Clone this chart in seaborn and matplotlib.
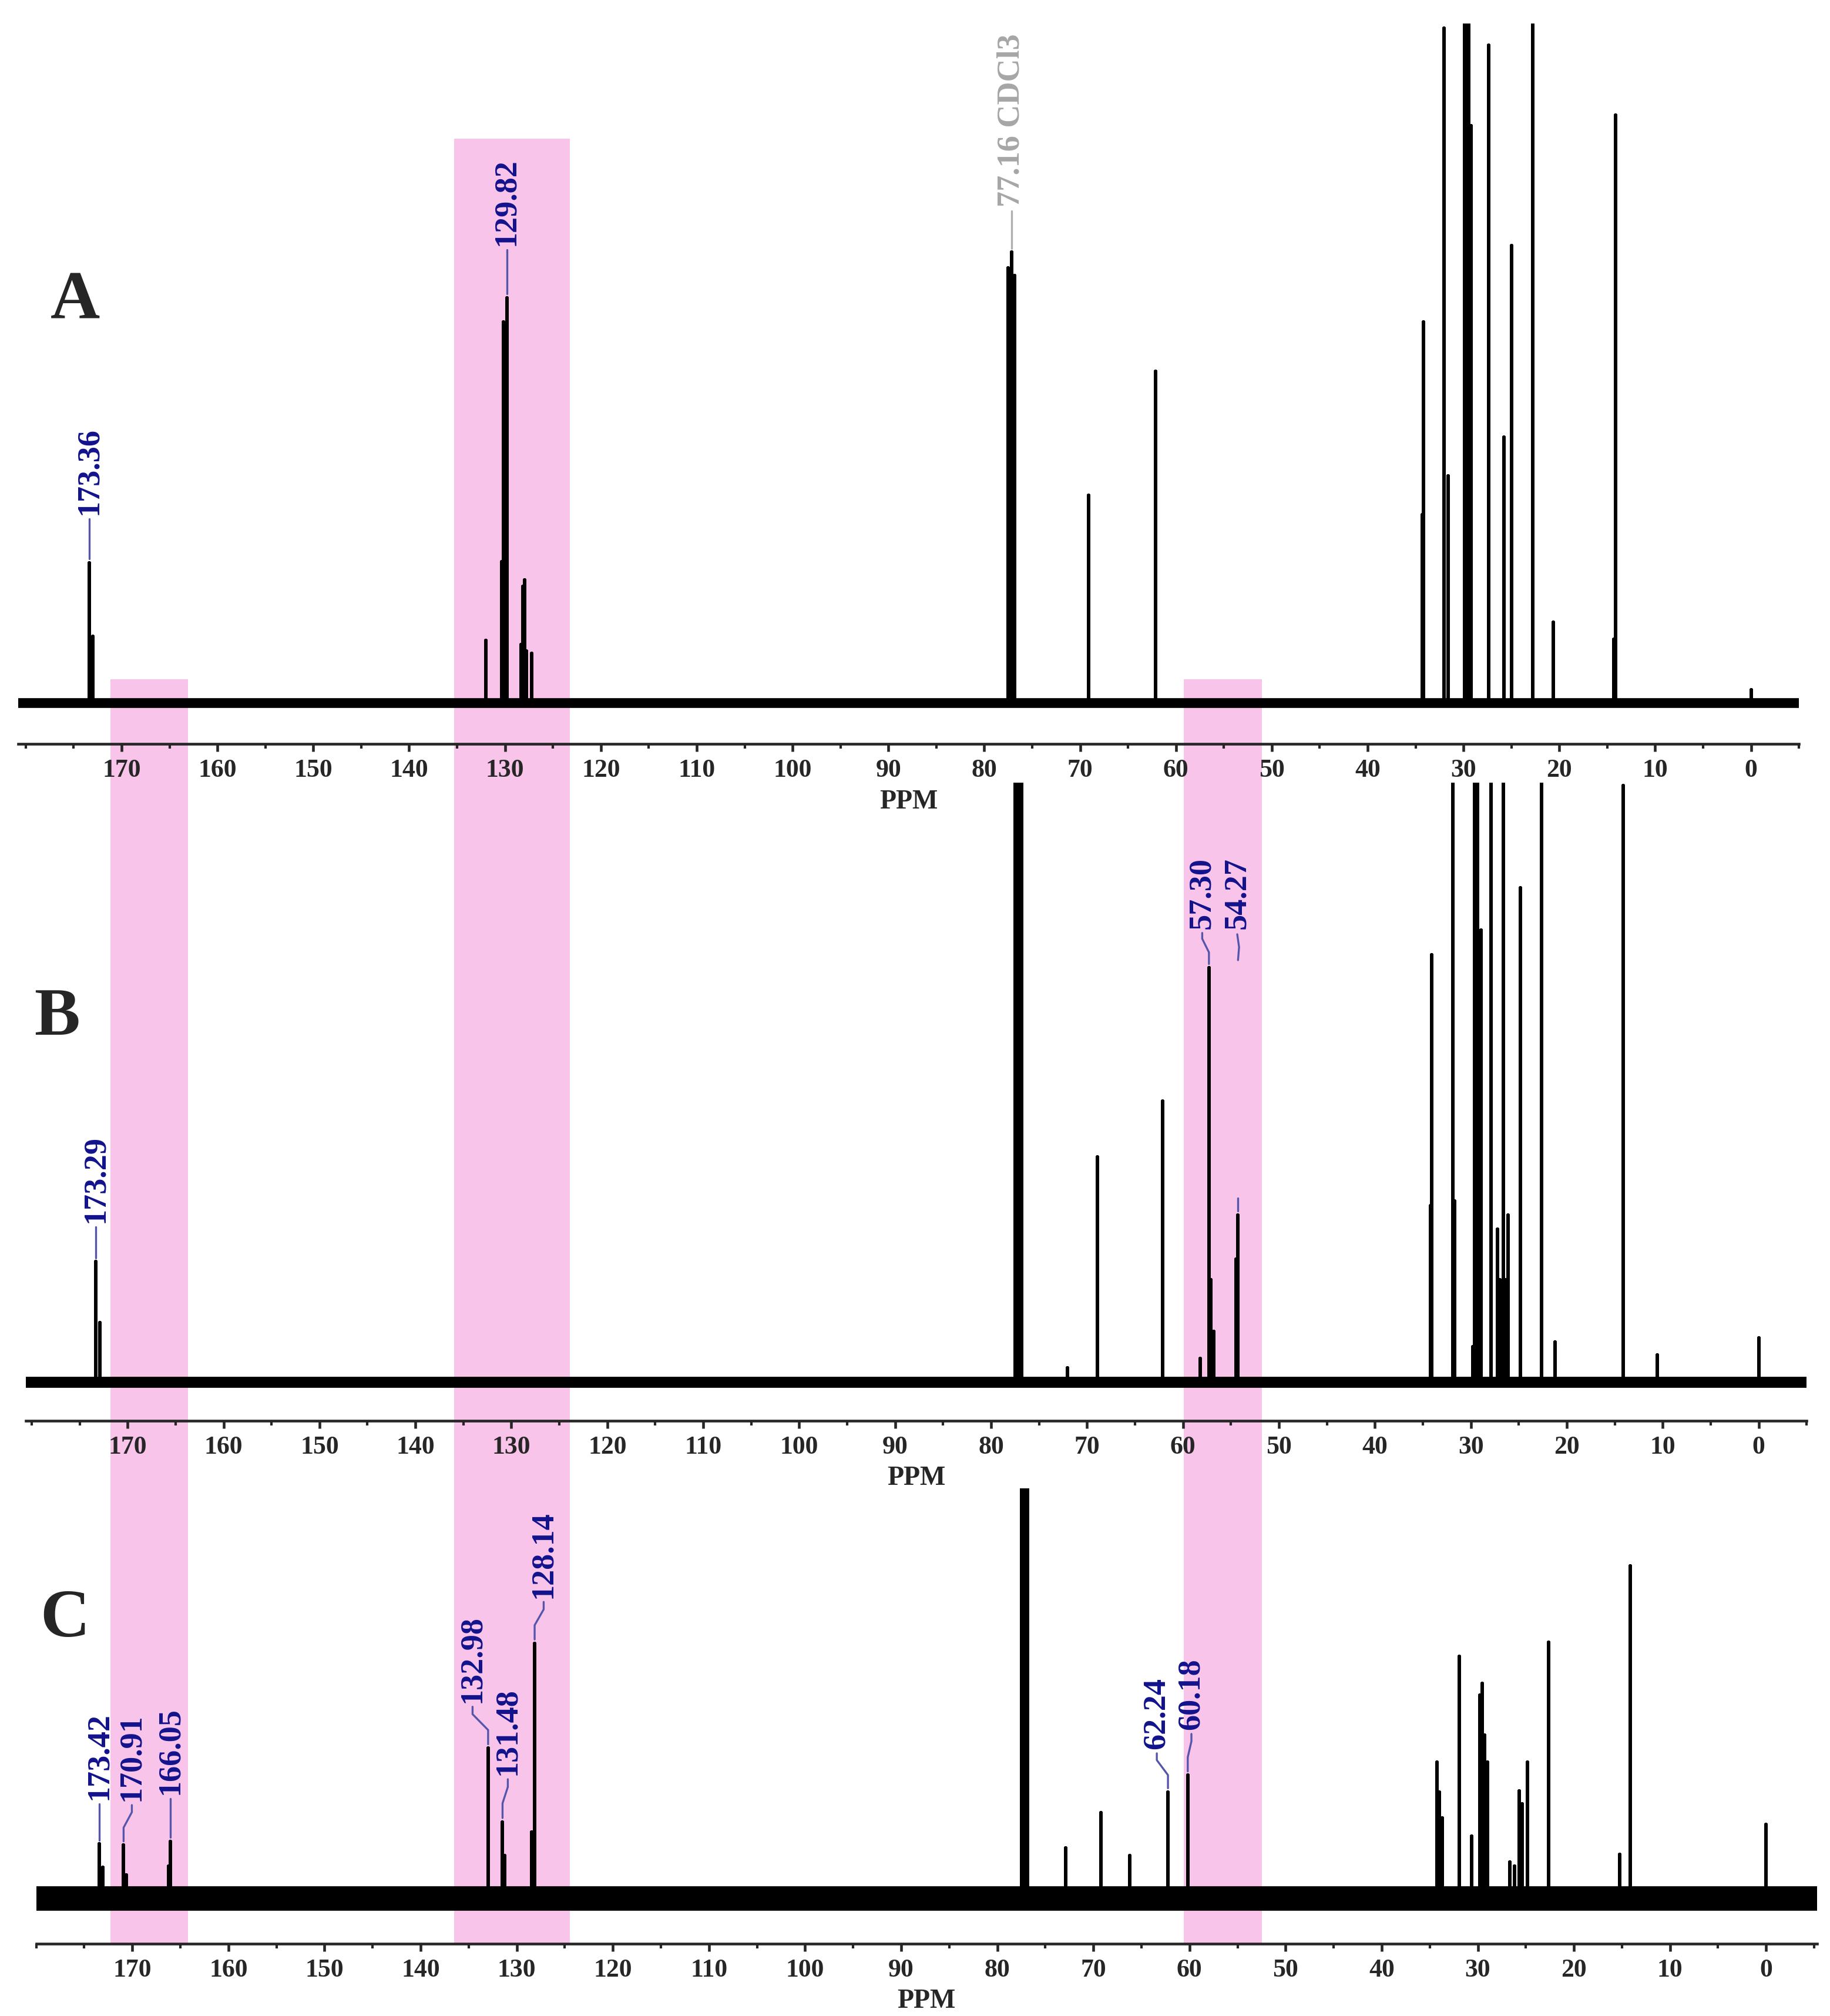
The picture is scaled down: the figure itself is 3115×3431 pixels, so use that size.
import pandas as pd
import matplotlib.pyplot as plt
import seaborn as sns

# -----------------------------
# peak lists (ppm, height above baseline)
# -----------------------------
a_ppm = [173.36, 173.02, 132.02, 130.34, 130.14, 129.82, 128.32, 128.12, 127.98, 127.77, 127.20,
         77.48, 77.16, 76.84, 69.10, 62.10, 34.30, 34.18, 32.04, 31.63, 29.90, 29.75, 29.60, 29.45,
         29.20, 27.35, 25.76, 24.96, 22.76, 20.60, 14.30, 14.14, 0.00]
a_int = [108, 51, 48, 109, 294, 313, 45, 90, 95, 40, 38,
         336, 348, 330, 160, 256, 145, 294, 521, 175, 600, 600, 600, 600,
         446, 508, 205, 353, 600, 62, 49, 454, 10]

b_ppm = [173.29, 172.90, 77.48, 77.16, 76.84, 72.05, 68.90, 62.15, 58.23, 57.30, 57.10, 56.83, 54.50, 54.27,
         34.20, 34.07, 31.87, 31.70, 29.78, 29.60, 29.30, 28.96, 27.88, 27.25, 26.98, 26.62, 26.43, 26.13,
         24.84, 22.66, 21.20, 14.12, 10.55, 0.00]
b_int = [93, 46, 600, 600, 600, 11, 174, 217, 18, 320, 79, 39, 95, 129,
         136, 330, 600, 140, 27, 600, 600, 349, 600, 118, 79, 600, 79, 129,
         382, 600, 31, 461, 21, 34]

c_ppm = [173.42, 173.05, 170.91, 170.60, 166.25, 166.05, 132.98, 131.48, 131.25, 128.45, 128.14,
         77.48, 77.16, 76.84, 72.90, 69.20, 66.20, 62.24, 60.18,
         34.25, 34.00, 33.67, 31.95, 30.67, 29.78, 29.52, 29.27, 29.00, 26.65, 26.17, 25.69, 25.40, 24.82,
         22.65, 15.24, 14.12, 0.00]
c_int = [42, 24, 41, 18, 25, 44, 116, 59, 33, 51, 197,
         400, 400, 400, 39, 66, 33, 82, 95,
         105, 82, 62, 187, 48, 157, 166, 126, 105, 28, 25, 83, 73, 105,
         198, 34, 257, 57]

# labelled peaks
a_lab = ["173.36", "129.82", "77.16 CDCl3"]
a_lab_ppm = [173.36, 129.82, 77.16]
b_lab = ["173.29", "57.30", "54.27"]
b_lab_ppm = [173.29, 57.30, 54.27]
c_lab = ["173.42", "170.91", "166.05", "132.98", "131.48", "128.14", "62.24", "60.18"]
c_lab_ppm = [173.42, 170.91, 166.05, 132.98, 131.48, 128.14, 62.24, 60.18]

# highlighted regions (ppm on the top spectrum's axis)
band_ppm = [(171.3, 163.3), (135.9, 124.0), (60.8, 52.8)]

# -----------------------------
# layout (pixels of a 1414 x 1558 view of the figure)
# -----------------------------
VW, VH = 1414, 1558
panels = {
    "A": dict(left=14, right=1390, top=18, spine=575, ylim=(-32, 525), xlim=(180.8, -2.5), noise=4.0,
              letter=(58, 233)),
    "B": dict(left=20, right=1396, top=605, spine=1098, ylim=(-30, 463), xlim=(180.6, -4.7), noise=4.5,
              letter=(44, 787)),
    "C": dict(left=28, right=1404, top=1150, spine=1502, ylim=(-35, 317), xlim=(180.0, -5.3), noise=10.0,
              letter=(50, 1252)),
}
band_tops = [525, 107, 525]
band_bottom = 1502

# label placement: text x (ppm), text bottom (height units), leader style
a_layout = [(173.36, 145, "straight"), (129.82, 353, "straight"), (77.16, 383, "straight")]
b_layout = [(173.29, 123, "straight"), (58.0, 350, "bend"), (54.35, 350, "broken")]
c_layout = [(173.42, 76, "straight"), (170.05, 75, "bend"), (166.05, 80, "straight"),
            (134.6, 151, "bend"), (130.93, 95, "bend"), (127.2, 232, "bend"),
            (63.4, 115, "bend"), (59.8, 130, "bend")]

NAVY = "#12128c"
LEAD = "#5555aa"
PINK = "#f9c4ea"

sns.set_theme(style="ticks")
plt.rcParams["font.family"] = ["Liberation Serif", "DejaVu Serif"]
plt.rcParams["font.weight"] = "bold"


def fx(px):
    return px / VW


def fy(py):
    return 1 - py / VH


def stick_frame(ppm, inten):
    rows = []
    for p, h in sorted(zip(ppm, inten), reverse=True):
        rows += [(p, 0), (p, h), (p, 0)]
    return pd.DataFrame(rows, columns=["ppm", "intensity"])


def label_peaks(ax, ppm, inten, lab_ppm, lab_txt, layout):
    for p, txt, (tx, ty, style) in zip(lab_ppm, lab_txt, layout):
        h = inten[ppm.index(p)]
        col = "#a6a6a6" if "CDCl3" in txt else NAVY
        lcol = "#b0b0b0" if "CDCl3" in txt else LEAD
        if style == "straight":
            ax.plot([p, p], [h + 3, ty - 3], color=lcol, lw=0.8)
        elif style == "bend":
            y1 = h + 0.4 * (ty - h)
            y2 = h + 0.75 * (ty - h)
            ax.plot([p, p, tx, tx], [h + 3, y1, y2, ty - 3], color=lcol, lw=0.8)
        else:
            ax.plot([p, p], [h + 3, h + 13], color=lcol, lw=0.8)
            ax.plot([p, (p + tx) / 2 - 0.15, tx], [ty - 24, ty - 14, ty - 4], color=lcol, lw=0.8)
        ax.text(tx, ty, txt, rotation=90, ha="center", va="bottom", color=col,
                fontsize=13, fontweight="bold")


fig = plt.figure(figsize=(3115 / 300, 3431 / 300), dpi=300)

# pink bands behind everything
pa = panels["A"]
bg = fig.add_axes([fx(pa["left"]), 0, fx(pa["right"]) - fx(pa["left"]), 1], zorder=0)
bg.set_xlim(*pa["xlim"])
bg.set_ylim(0, 1)
bg.axis("off")
for (x0, x1), top in zip(band_ppm, band_tops):
    bg.axvspan(x0, x1, ymin=fy(band_bottom), ymax=fy(top), color=PINK, lw=0)

spectra = {
    "A": (a_ppm, a_int, a_lab_ppm, a_lab, a_layout),
    "B": (b_ppm, b_int, b_lab_ppm, b_lab, b_layout),
    "C": (c_ppm, c_int, c_lab_ppm, c_lab, c_layout),
}

for name, (ppm, inten, lab_ppm, lab_txt, layout) in spectra.items():
    p = panels[name]
    ax = fig.add_axes([fx(p["left"]), fy(p["spine"]), fx(p["right"]) - fx(p["left"]),
                       fy(p["top"]) - fy(p["spine"])], zorder=1)
    ax.patch.set_alpha(0)
    ax.axhline(0, color="black", lw=p["noise"], zorder=1)
    sns.lineplot(data=stick_frame(ppm, inten), x="ppm", y="intensity", sort=False,
                 estimator=None, color="black", lw=1.4, ax=ax, zorder=2)
    label_peaks(ax, ppm, inten, lab_ppm, lab_txt, layout)
    ax.set_xlim(*p["xlim"])
    ax.set_ylim(*p["ylim"])
    ax.set_yticks([])
    ax.set_ylabel("")
    ax.set_xticks(range(0, 171, 10))
    ax.set_xticks(range(-5, 181, 5), minor=True)
    for s in ["left", "right", "top"]:
        ax.spines[s].set_visible(False)
    ax.spines["bottom"].set_linewidth(1.1)
    ax.tick_params(axis="x", which="major", bottom=True, direction="out", length=3, width=1.1,
                   labelsize=10.5, pad=3)
    ax.tick_params(axis="x", which="minor", bottom=True, direction="out", length=1.8, width=1.0)
    ax.set_xlabel("PPM", fontsize=11, fontweight="bold", labelpad=3)
    lx, ly = p["letter"]
    fig.text(fx(lx), fy(ly), name, fontsize=28, fontweight="bold", ha="center", va="center")

fig.savefig("out.png", dpi=300)
